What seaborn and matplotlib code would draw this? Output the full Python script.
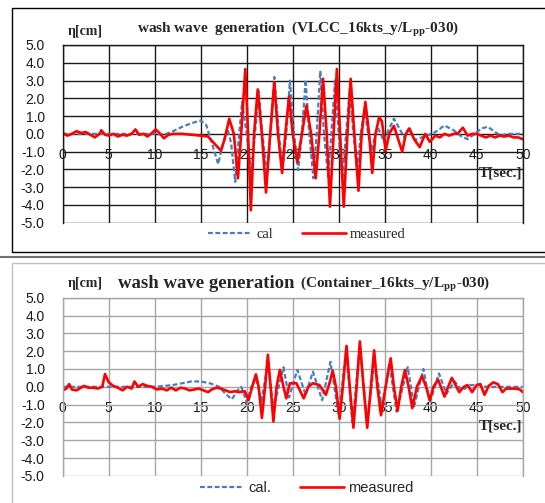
import matplotlib
matplotlib.use("Agg")
import matplotlib.pyplot as plt
from matplotlib.patches import Rectangle
from matplotlib.lines import Line2D
import pandas as pd
import seaborn as sns

# ---- data ----
XTICKS = [0, 5, 10, 15, 20, 25, 30, 35, 40, 45, 50]
YTICKS = [-5, -4, -3, -2, -1, 0, 1, 2, 3, 4, 5]
YTICK_LABELS = ["-5.0", "-4.0", "-3.0", "-2.0", "-1.0", "0.0",
                "1.0", "2.0", "3.0", "4.0", "5.0"]

# VLCC panel
vlcc_meas_t = [0.0, 0.5, 1.0, 1.5, 2.0, 2.5, 3.0, 3.5, 4.0, 4.2, 4.6, 5.0, 5.5, 6.0,
               6.5, 7.0, 7.5, 7.9, 8.3, 8.8, 9.2, 9.6, 10.1, 10.6, 11.0, 11.5, 12.0,
               13.0, 14.0, 15.0, 15.8, 16.4, 17.2, 17.6, 18.1, 18.6, 19.05, 19.4,
               19.85, 20.15, 20.45, 20.8, 21.2, 21.65, 22.1, 22.55, 23.0, 23.4,
               23.85, 24.2, 24.6, 25.0, 25.5, 26.0, 26.5, 27.0, 27.5, 27.9, 28.3,
               28.7, 29.05, 29.45, 29.8, 30.15, 30.55, 30.95, 31.3, 31.7, 32.15,
               32.5, 32.9, 33.3, 33.65, 34.0, 34.4, 34.7, 35.1, 35.5, 36.0, 36.4,
               36.9, 37.3, 37.7, 38.2, 38.8, 39.4, 39.9, 40.5, 41.0, 41.5, 42.0,
               42.5, 43.0, 43.5, 44.0, 44.5, 45.0, 45.5, 46.0, 46.5, 47.0, 47.5,
               48.0, 48.5, 49.0, 49.5, 50.0]
vlcc_meas_v = [0.05, -0.1, 0.0, 0.15, 0.05, 0.1, -0.05, -0.2, 0.0, 0.2, -0.05, -0.1,
               0.0, -0.15, -0.05, -0.1, 0.0, 0.25, -0.05, 0.0, -0.15, 0.0, 0.25, 0.0,
               -0.25, -0.05, 0.0, 0.0, -0.05, -0.1, -0.15, -0.5, -0.95, -0.3, 0.85,
               0.0, -2.5, 0.0, 3.65, 0.0, -4.3, 0.0, 2.5, 0.0, -3.3, 0.0, 2.9, 0.0,
               -2.2, 0.0, 2.1, 0.0, -1.6, 0.0, 1.6, 0.0, -2.5, 0.0, 3.1, 0.0, -4.1,
               0.0, 3.65, 0.0, -4.1, 0.0, 3.1, 0.0, -3.2, 0.0, 1.8, 0.0, -2.2, 0.0,
               0.95, 0.7, -0.95, 0.0, 0.45, -0.2, -1.0, 0.0, 0.3, -0.3, -0.75, 0.0,
               -0.45, -0.1, -0.2, 0.0, -0.1, 0.0, 0.05, 0.35, -0.1, 0.0, 0.0, -0.1,
               -0.2, -0.1, -0.2, -0.1, -0.15, -0.1, -0.2, -0.2, -0.3]
vlcc_cal_t = [0.0, 10.0, 11.0, 12.0, 13.0, 14.0, 15.0, 15.6, 16.2, 16.9, 17.4, 17.9,
              18.3, 18.75, 19.1, 19.5, 20.0, 20.5, 20.9, 21.3, 21.7, 22.2, 22.6,
              23.0, 23.5, 23.9, 24.3, 24.7, 25.15, 25.6, 26.0, 26.4, 26.8, 27.25,
              27.6, 28.0, 28.4, 28.85, 29.2, 29.6, 30.0, 30.4, 30.8, 31.2, 31.6,
              32.0, 32.4, 32.8, 33.2, 33.6, 34.0, 34.3, 34.9, 35.5, 36.0, 36.6,
              37.1, 37.6, 38.3, 39.0, 39.6, 40.5, 41.5, 42.5, 43.2, 44.0, 44.8,
              45.5, 46.2, 47.0, 47.6, 48.3, 50.0]
vlcc_cal_v = [0.0, 0.0, -0.05, 0.15, 0.4, 0.6, 0.75, 0.5, -0.5, -1.7, -0.6, 0.3,
              -0.5, -2.7, -0.5, 1.8, 0.0, -2.3, 0.0, 2.4, 0.0, -2.3, 0.0, 3.2, 0.0,
              -2.0, 0.0, 3.0, 0.0, -2.05, 0.0, 3.05, 0.0, -2.5, 0.0, 3.55, 0.0,
              -2.4, 0.0, 3.0, 0.0, -2.5, 0.0, 2.5, 0.0, -2.0, 0.0, 1.4, 0.0, -0.9,
              0.0, 0.3, -0.4, 0.3, 0.85, 0.3, -0.2, 0.3, -0.35, -0.2, -0.1, 0.1,
              0.47, 0.2, -0.1, -0.3, 0.0, 0.3, 0.4, 0.1, -0.1, 0.0, 0.0]

# Container panel
cont_meas_t = [0.0, 0.4, 0.7, 1.0, 1.5, 2.0, 2.3, 2.8, 3.3, 3.8, 4.3, 4.6, 5.0, 5.5,
               6.0, 6.5, 7.0, 7.5, 7.8, 8.2, 8.7, 9.2, 9.7, 10.2, 10.8, 11.3, 11.8,
               12.3, 12.8, 13.3, 13.8, 14.3, 14.8, 15.3, 15.8, 16.2, 16.7, 17.2,
               17.7, 18.2, 18.7, 19.2, 19.8, 20.2, 20.6, 21.0, 21.3, 21.65, 22.0,
               22.3, 22.6, 22.9, 23.25, 23.6, 24.0, 24.3, 24.7, 25.4, 26.2, 26.7,
               27.2, 27.9, 28.6, 29.0, 29.35, 29.7, 30.1, 30.45, 30.85, 31.2, 31.6,
               31.95, 32.3, 32.7, 33.1, 33.5, 33.85, 34.2, 34.6, 35.1, 35.65, 36.0,
               36.4, 36.8, 37.2, 37.6, 38.0, 38.5, 39.05, 39.5, 39.9, 40.3, 40.8,
               41.1, 41.5, 41.9, 42.3, 42.7, 43.1, 43.6, 44.0, 44.5, 45.0, 45.4,
               45.85, 46.3, 46.8, 47.3, 47.8, 48.2, 48.7, 49.2, 49.7, 50.0]
cont_meas_v = [-0.2, -0.1, 0.15, -0.15, -0.2, -0.05, 0.05, -0.05, -0.05, -0.1, 0.0,
               0.72, 0.25, 0.05, -0.05, -0.2, 0.0, -0.1, 0.3, 0.0, 0.15, 0.05, 0.0,
               -0.15, -0.1, -0.2, -0.05, -0.2, -0.05, -0.1, -0.2, -0.15, -0.1, -0.2,
               -0.3, -0.15, -0.05, -0.1, -0.2, -0.3, -0.25, -0.3, -0.25, -0.75, 0.0,
               0.7, 0.0, -1.75, 0.0, 1.8, 0.0, -1.95, 0.0, 0.95, 0.0, -0.65, 0.2,
               0.2, -0.65, 0.0, 0.2, 0.1, -0.45, 0.2, 0.9, 0.0, -1.8, 0.0, 2.3, 0.0,
               -2.3, 0.0, 2.55, 0.0, -2.3, 0.0, 2.05, 0.0, -1.6, 0.0, 1.6, 0.0,
               -1.35, 0.0, 0.95, 0.0, -1.2, 0.0, 0.6, 0.0, -0.75, 0.0, 0.4, 0.0,
               -0.55, 0.0, 0.5, 0.1, -0.3, 0.0, 0.1, -0.3, 0.1, 0.15, -0.45, 0.05,
               0.25, 0.15, -0.3, -0.1, -0.1, -0.1, -0.15, -0.3]
cont_cal_t = [0.0, 10.0, 11.0, 12.0, 13.0, 14.0, 15.0, 16.0, 17.0, 17.7, 18.4, 19.0,
              19.4, 20.0, 20.5, 21.0, 21.6, 22.3, 22.9, 24.0, 24.6, 25.5, 26.4,
              27.2, 28.2, 29.1, 30.0, 30.8, 31.5, 32.3, 33.1, 33.9, 34.7, 35.5,
              36.3, 37.5, 38.2, 39.2, 39.9, 40.9, 41.7, 42.6, 43.4, 44.3, 45.2,
              46.0, 50.0]
cont_cal_v = [0.0, 0.0, 0.05, 0.1, 0.2, 0.3, 0.3, 0.2, 0.0, -0.4, -0.7, -0.2, 0.0,
              -0.85, 0.0, 0.5, -0.8, 1.3, -1.2, 1.1, -0.6, 0.95, -0.45, 0.85,
              -0.75, 1.4, -1.6, 2.0, -2.0, 2.3, -2.0, 1.5, -1.2, 1.3, -1.4, 1.1,
              -1.1, 1.0, -0.9, 0.75, -0.4, 0.3, -0.2, 0.1, 0.1, 0.0, 0.0]

BLUE = "#4a7ebb"
RED = "#ff0000"
SERIF = "Liberation Serif"
SANS = "Liberation Sans"

sns.set_style("white")
plt.rcParams["font.family"] = [SANS, "DejaVu Sans"]
plt.rcParams["mathtext.fontset"] = "stix"

W, H = 545, 503
fig = plt.figure(figsize=(W / 100, H / 100), dpi=100)


def fx(px):
    return px / W


def fy(py):
    return 1 - py / H


def draw_panel(ax, cal_t, cal_v, meas_t, meas_v, grid_color, cal_label, legend_font, legend_y):
    cal = pd.DataFrame({"t": cal_t, "eta": cal_v})
    meas = pd.DataFrame({"t": meas_t, "eta": meas_v})
    sns.lineplot(data=cal, x="t", y="eta", ax=ax, color=BLUE, lw=1.6,
                 linestyle=(0, (2.2, 1.1)), sort=False, label=cal_label)
    sns.lineplot(data=meas, x="t", y="eta", ax=ax, color=RED, lw=1.9,
                 sort=False, label="measured")
    ax.set_xlim(0, 50)
    ax.set_ylim(-5, 5)
    ax.set_xticks(XTICKS)
    ax.set_xticklabels([str(x) for x in XTICKS])
    ax.set_yticks(YTICKS)
    ax.set_yticklabels(YTICK_LABELS)
    ax.set_xlabel("")
    ax.set_ylabel("")
    ax.grid(True, color=grid_color, lw=1.0)
    ax.set_axisbelow(True)
    for s in ax.spines.values():
        s.set_color(grid_color)
        s.set_linewidth(1.0)
    ax.spines["bottom"].set_position(("data", 0))
    ax.spines["bottom"].set_visible(False)
    ax.tick_params(axis="both", length=0, labelsize=10, colors="#1a1a1a")
    ax.tick_params(axis="x", pad=10.5)
    ax.tick_params(axis="y", pad=13)
    ax.text(49.9, -2.2, "T[sec.]", ha="right", va="center", fontsize=11,
            fontweight="bold", family=SERIF)
    handles, labels = ax.get_legend_handles_labels()
    ax.legend(handles, labels, loc="center", bbox_to_anchor=(fx(307), legend_y),
              bbox_transform=fig.transFigure, ncol=2, frameon=False,
              handlelength=3.0, handletextpad=0.3, columnspacing=2.0,
              prop={"family": legend_font, "size": 10.5})


ax_top = fig.add_axes([fx(62.7), fy(222.7), 460 / W, 177.7 / H])
ax_bot = fig.add_axes([fx(62.7), fy(475.8), 460 / W, 178 / H])

draw_panel(ax_top, vlcc_cal_t, vlcc_cal_v, vlcc_meas_t, vlcc_meas_v,
           "#1a1a1a", "cal", SERIF, fy(234))
draw_panel(ax_bot, cont_cal_t, cont_cal_v, cont_meas_t, cont_meas_v,
           "#a6a6a6", "cal.", SANS, fy(488))

# titles
fig.text(fx(68), fy(32), "η[cm]", ha="left", va="center", fontsize=10,
         fontweight="bold", family=SERIF)
fig.text(fx(298), fy(30), r"wash wave  generation  (VLCC_16kts_y/L$_{\mathbf{pp}}$-030)",
         ha="center", va="center", fontsize=11, fontweight="bold", family=SERIF)
fig.text(fx(68), fy(284), "η[cm]", ha="left", va="center", fontsize=10,
         fontweight="bold", family=SERIF)
fig.text(fx(118), fy(283), "wash wave generation", ha="left", va="center",
         fontsize=13.5, fontweight="bold", family=SERIF)
fig.text(fx(300), fy(284), r"(Container_16kts_y/L$_{\mathbf{pp}}$-030)", ha="left",
         va="center", fontsize=11, fontweight="bold", family=SERIF)

# panel frames
fig.add_artist(Rectangle((fx(12), fy(252)), fx(540), (252 - 7.5) / H,
                         transform=fig.transFigure, fill=False, edgecolor="black", lw=1.0))
fig.add_artist(Line2D([0, 1], [fy(257), fy(257)], transform=fig.transFigure,
                      color="#707070", lw=1.5))
fig.add_artist(Rectangle((fx(12), fy(520)), fx(540), (520 - 263) / H,
                         transform=fig.transFigure, fill=False, edgecolor="#c0c0c0", lw=1.0))

fig.savefig("out.png", dpi=100)
